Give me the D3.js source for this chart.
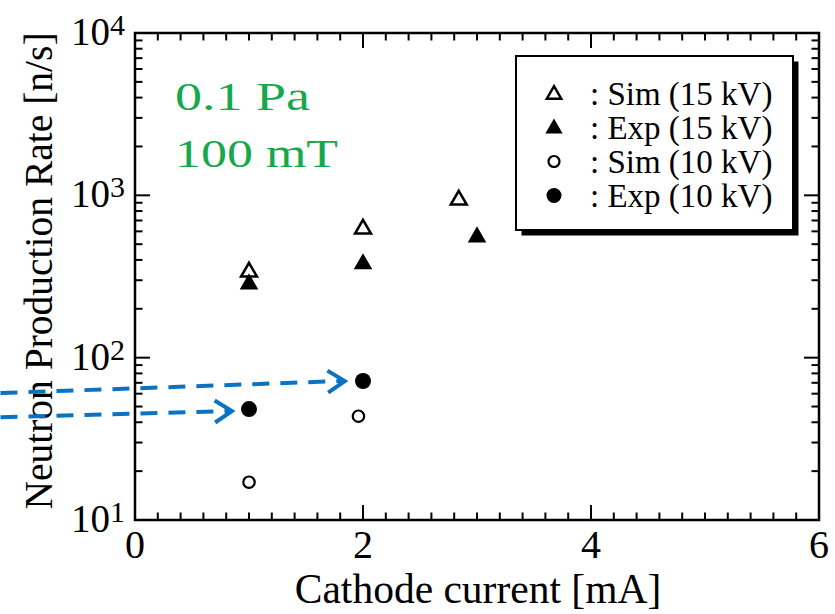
<!DOCTYPE html>
<html><head><meta charset="utf-8">
<script src="https://cdn.jsdelivr.net/npm/d3@7"></script>
<style>body{margin:0;background:#fff}svg{display:block}text{font-family:"Liberation Serif","Times New Roman",serif}</style>
</head><body><svg id="c" width="835" height="614"></svg>
<script>
const xDomain=[0,6];
const yDomain=[10,10000];
const xTickLabels=[0,2,4,6];
const yTickExps=[1,2,3,4];
const seriesNames=[": Sim (15 kV)",": Exp (15 kV)",": Sim (10 kV)",": Exp (10 kV)"];
const sim15x=[1,2,2.84];
const sim15y=[342,629,949];
const exp15x=[1,2,3];
const exp15y=[288,383,561];
const sim10x=[1,1.96];
const sim10y=[17.1,43.6];
const exp10x=[1,2];
const exp10y=[48.2,71.8];
// annotation arrows (data coords): start -> end
const arrowFrom=[[-1.18,43],[-1.18,60.5]];
const arrowTo=[[0.85,46.9],[1.84,71.8]];
const noteLines=["0.1 Pa","100 mT"];

const svg=d3.select("#c");
const L=135,R=819,T=33,B=520;
const x=d3.scaleLinear().domain(xDomain).range([L,R]);
const y=d3.scaleLog().domain(yDomain).range([B,T]);

const xMinor=d3.range(0,6.0001,0.2).map(v=>+v.toFixed(2));
const yMinor=[];
for(let e=1;e<4;e++)for(let k=1;k<10;k++)yMinor.push(k*Math.pow(10,e));
yMinor.push(10000);
const isMajX=v=>Math.abs(v/2-Math.round(v/2))<1e-6;
const isMajY=v=>Math.abs(Math.log10(v)-Math.round(Math.log10(v)))<1e-6;

const g=svg.append("g");
xMinor.forEach(v=>{
  const len=isMajX(v)?15:7.5;
  g.append("line").attr("x1",x(v)).attr("x2",x(v)).attr("y1",B).attr("y2",B-len).attr("stroke","#000").attr("stroke-width",2);
  g.append("line").attr("x1",x(v)).attr("x2",x(v)).attr("y1",T).attr("y2",T+len).attr("stroke","#000").attr("stroke-width",2);
});
yMinor.forEach(v=>{
  const len=isMajY(v)?15:7.5;
  g.append("line").attr("y1",y(v)).attr("y2",y(v)).attr("x1",L).attr("x2",L+len).attr("stroke","#000").attr("stroke-width",2);
  g.append("line").attr("y1",y(v)).attr("y2",y(v)).attr("x1",R).attr("x2",R-len).attr("stroke","#000").attr("stroke-width",2);
});
g.append("rect").attr("x",L).attr("y",T).attr("width",R-L).attr("height",B-T).attr("fill","none").attr("stroke","#000").attr("stroke-width",2.5);

xTickLabels.forEach(v=>{
  g.append("text").attr("x",x(v)).attr("y",B+38).attr("text-anchor","middle").attr("font-size",40).text(v);
});
yTickExps.forEach(e=>{
  const t=g.append("text").attr("x",L-10).attr("y",y(Math.pow(10,e))+12).attr("text-anchor","end").attr("font-size",39);
  t.append("tspan").text("10");
  t.append("tspan").attr("font-size",30).attr("dy",-10).text(e);
});

g.append("text").attr("x",x(3)+1).attr("y",603).attr("text-anchor","middle").attr("font-size",41.5).text("Cathode current [mA]");
g.append("text").attr("transform",`translate(52,271) rotate(-90)`).attr("text-anchor","middle").attr("font-size",39.5).text("Neutron Production Rate [n/s]");

const noteW=[135,163];
noteLines.forEach((s,i)=>{
  g.append("text").attr("x",175).attr("y",110+57*i).attr("font-size",41).attr("fill","#17a84b")
    .attr("textLength",noteW[i]).attr("lengthAdjust","spacingAndGlyphs").text(s);
});

const tri=d3.symbol().type(d3.symbolTriangle).size(150);
const triOpen=d3.symbol().type(d3.symbolTriangle).size(110);
function drawTri(xs,ys,filled){
  xs.forEach((v,i)=>{
    g.append("path").attr("d",filled?tri():triOpen()).attr("transform",`translate(${x(v)},${y(ys[i])+1})`)
      .attr("fill",filled?"#000":"#fff").attr("stroke","#000").attr("stroke-width",filled?0:2.5);
  });
}
function drawCirc(xs,ys,filled){
  xs.forEach((v,i)=>{
    g.append("circle").attr("cx",x(v)).attr("cy",y(ys[i])).attr("r",filled?8:5.7)
      .attr("fill",filled?"#000":"#fff").attr("stroke","#000").attr("stroke-width",filled?0:2.2);
  });
}
drawTri(sim15x,sim15y,false);
drawTri(exp15x,exp15y,true);
drawCirc(sim10x,sim10y,false);
drawCirc(exp10x,exp10y,true);

const blue="#0b72c2";
arrowFrom.forEach((a,i)=>{
  const b=arrowTo[i];
  const x1=x(a[0]),y1=y(a[1]),x2=x(b[0]),y2=y(b[1]);
  g.append("line").attr("x1",x1).attr("y1",y1).attr("x2",x2-3).attr("y2",y2).attr("stroke",blue).attr("stroke-width",4).attr("stroke-dasharray","17,11");
  const ang=Math.atan2(y2-y1,x2-x1);
  const hl=17,hw=11;
  const p=(dx,dy)=>[x2+dx*Math.cos(ang)-dy*Math.sin(ang),y2+dx*Math.sin(ang)+dy*Math.cos(ang)];
  const pts=[p(-hl,-hw),p(0,0),p(-hl,hw)];
  g.append("path").attr("d",d3.line()(pts)).attr("fill","none").attr("stroke",blue).attr("stroke-width",4).attr("stroke-linejoin","miter");
});

const lx=516,ly=56,lw=277,lh=174;
g.append("rect").attr("x",lx+5.5).attr("y",ly+5.5).attr("width",lw).attr("height",lh).attr("fill","#000");
g.append("rect").attr("x",lx).attr("y",ly).attr("width",lw).attr("height",lh).attr("fill","#fff").attr("stroke","#000").attr("stroke-width",2);
const symX=554;
seriesNames.forEach((s,i)=>{
  const cy=93.5+34*i;
  if(i<2){
    g.append("path").attr("d",i===0?d3.symbol().type(d3.symbolTriangle).size(90)():d3.symbol().type(d3.symbolTriangle).size(130)())
      .attr("transform",`translate(${symX},${cy+1})`)
      .attr("fill",i===1?"#000":"#fff").attr("stroke","#000").attr("stroke-width",i===1?0:2.5);
  } else {
    g.append("circle").attr("cx",symX).attr("cy",cy).attr("r",i===3?7.5:5.5)
      .attr("fill",i===3?"#000":"#fff").attr("stroke","#000").attr("stroke-width",i===3?0:2.2);
  }
  g.append("text").attr("x",590).attr("y",cy+11.5).attr("font-size",33).text(s);
});
</script></body></html>
